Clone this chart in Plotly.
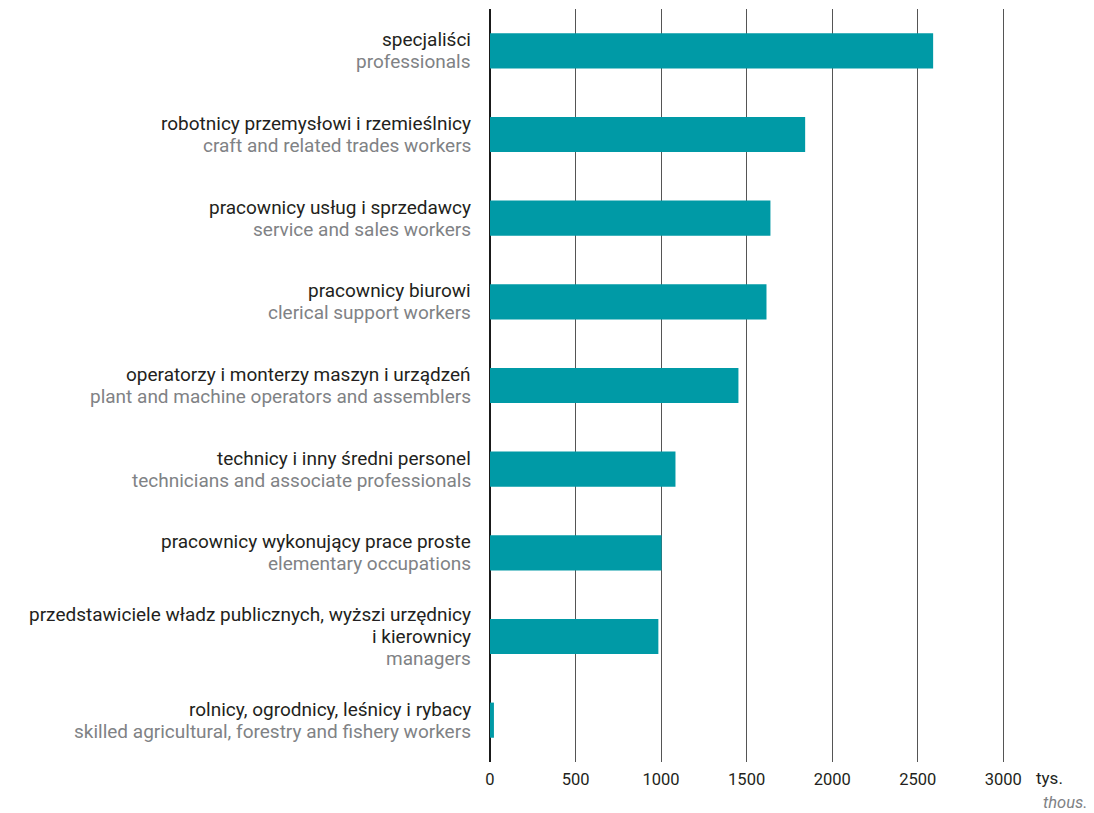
import plotly.graph_objects as go

categories_pl = [
    ["specjaliści"],
    ["robotnicy przemysłowi i rzemieślnicy"],
    ["pracownicy usług i sprzedawcy"],
    ["pracownicy biurowi"],
    ["operatorzy i monterzy maszyn i urządzeń"],
    ["technicy i inny średni personel"],
    ["pracownicy wykonujący prace proste"],
    ["przedstawiciele władz publicznych, wyższi urzędnicy", "i kierownicy"],
    ["rolnicy, ogrodnicy, leśnicy i rybacy"],
]
categories_en = [
    "professionals",
    "craft and related trades workers",
    "service and sales workers",
    "clerical support workers",
    "plant and machine operators and assemblers",
    "technicians and associate professionals",
    "elementary occupations",
    "managers",
    "skilled agricultural, forestry and fishery workers",
]
values = [2590, 1842, 1639, 1616, 1452, 1084, 1003, 984, 23]
x_ticks = [0, 500, 1000, 1500, 2000, 2500, 3000]

BLACK = "#231f20"
GRAY = "#808285"
BAR = "#009aa6"
FONT = "Roboto"
LABEL_SIZE = 19
LINE = 22.3

idx = list(range(len(values)))

fig = go.Figure(go.Bar(
    x=values, y=idx, orientation="h",
    marker=dict(color=BAR, line=dict(width=0)),
    width=0.42,
    hoverinfo="skip",
))

annotations = []
for i, (pl_lines, en) in enumerate(zip(categories_pl, categories_en)):
    lines = [(t, BLACK) for t in pl_lines] + [(en, GRAY)]
    n = len(lines)
    for k, (t, c) in enumerate(lines):
        off = ((n - 1) / 2 - k) * LINE
        annotations.append(dict(
            text=t, xref="x", yref="y", x=0, y=i, xanchor="right", yanchor="middle",
            xshift=-18, yshift=off, showarrow=False, borderpad=0,
            font=dict(family=FONT, size=LABEL_SIZE, color=c),
        ))

annotations += [
    dict(text="tys.", xref="x", yref="paper", x=3000, y=0, xanchor="left", yanchor="middle",
         xshift=31, yshift=-16, showarrow=False, font=dict(family=FONT, size=17, color=BLACK)),
    dict(text="<i>thous.</i>", xref="x", yref="paper", x=3000, y=0, xanchor="right", yanchor="middle",
         xshift=86, yshift=-40, showarrow=False, font=dict(family=FONT, size=16.5, color=GRAY)),
]

fig.update_layout(
    width=1094, height=813,
    margin=dict(l=490, r=89, t=9, b=51, autoexpand=False),
    paper_bgcolor="white", plot_bgcolor="white",
    font=dict(family=FONT, size=16, color=BLACK),
    showlegend=False,
    xaxis=dict(
        range=[0, 3010], tickvals=x_ticks, ticktext=[str(t) for t in x_ticks],
        showgrid=True, gridcolor="#555555", gridwidth=1,
        zeroline=True, zerolinecolor="#1a1a1a", zerolinewidth=1.5,
        showline=False, ticks="", ticklabelstandoff=5, automargin=False,
        tickfont=dict(family=FONT, size=16.5, color=BLACK),
        fixedrange=True,
    ),
    yaxis=dict(
        range=[len(values) - 0.5, -0.5], showticklabels=False,
        showgrid=False, zeroline=False, showline=False, ticks="",
        automargin=False, fixedrange=True,
    ),
    annotations=annotations,
)

fig.write_html(
    "out.html",
    config={"displayModeBar": False},
    post_script="document.body.style.margin='0';document.body.style.overflow='hidden';",
)
